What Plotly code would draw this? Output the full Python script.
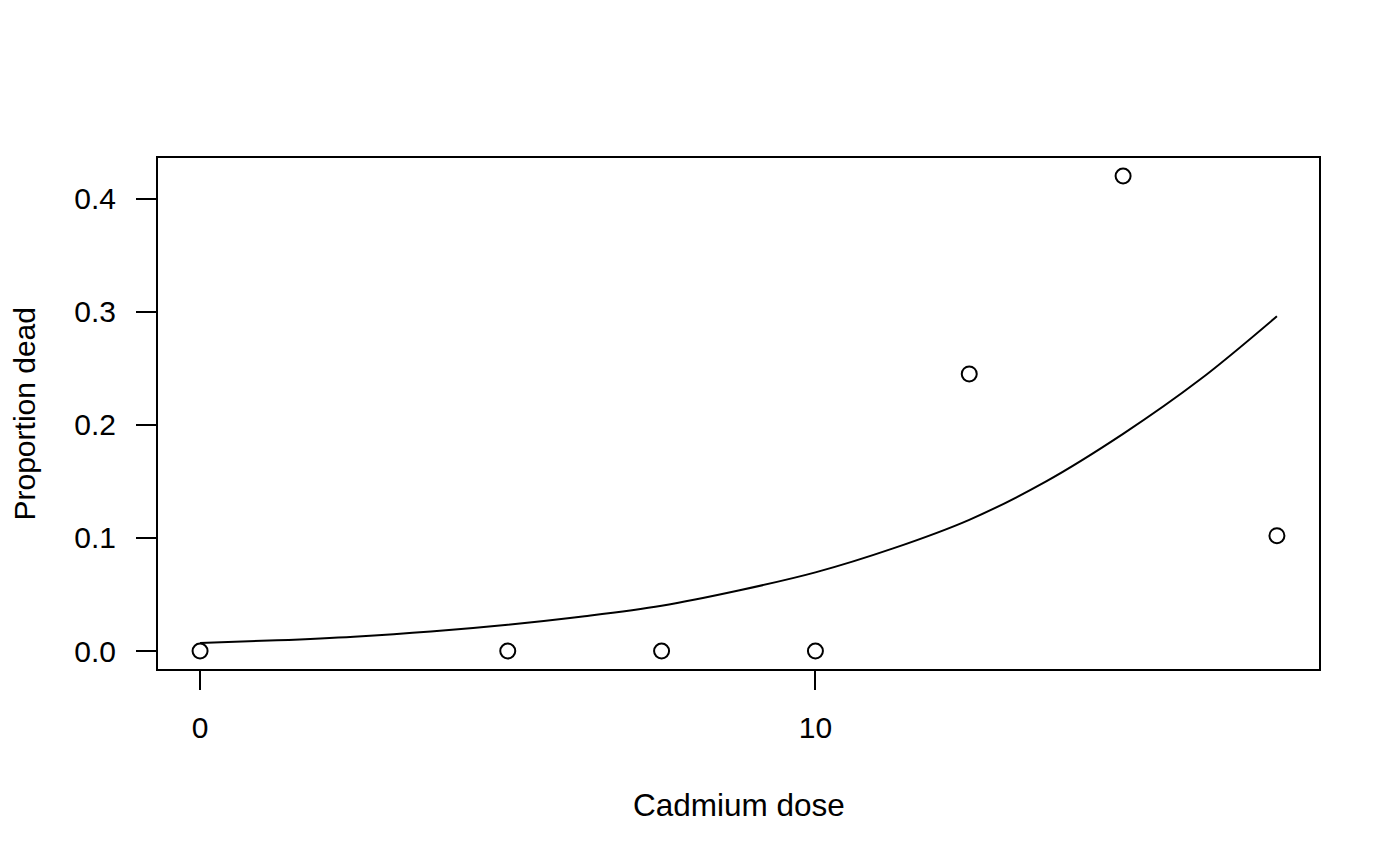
import plotly.graph_objects as go

# Observed data
dose = [0, 5, 7.5, 10, 12.5, 15, 17.5]
prop_dead = [0.0, 0.0, 0.0, 0.0, 0.245, 0.42, 0.102]

# Fitted curve
curve_dose = [0, 1.25, 2.5, 3.75, 5, 6.25, 7.5, 8.75, 10, 11.25, 12.5, 13.75, 15, 16.25, 17.5]
curve_prop = [0.0071, 0.0095, 0.0127, 0.0172, 0.0232, 0.0307, 0.0400, 0.0535,
              0.0695, 0.0905, 0.116, 0.150, 0.192, 0.240, 0.296]

x_ticks = [0, 10]
x_ticklabels = ["0", "10"]
y_ticks = [0.0, 0.1, 0.2, 0.3, 0.4]
y_ticklabels = ["0.0", "0.1", "0.2", "0.3", "0.4"]

FONT = "Liberation Sans, Arial, Helvetica, sans-serif"

fig = go.Figure()
fig.add_trace(go.Scatter(
    x=curve_dose, y=curve_prop, mode="lines",
    line=dict(color="black", width=2, shape="spline", smoothing=1.0),
    showlegend=False, hoverinfo="skip"))
fig.add_trace(go.Scatter(
    x=dose, y=prop_dead, mode="markers",
    marker=dict(symbol="circle-open", size=15, color="black", line=dict(width=2, color="black")),
    showlegend=False))

fig.update_layout(
    width=1400, height=866,
    margin=dict(l=149, r=88, t=149, b=204),
    paper_bgcolor="white", plot_bgcolor="white",
    font=dict(family=FONT, size=30, color="black"),
    xaxis=dict(range=[-0.7, 18.2], tickvals=x_ticks, ticktext=x_ticklabels,
               ticks="outside", ticklen=19, tickwidth=2, tickcolor="black",
               showgrid=False, zeroline=False, showline=False,
               ticklabelstandoff=12, tickfont=dict(size=30)),
    yaxis=dict(range=[-0.0168, 0.4368], tickvals=y_ticks, ticktext=y_ticklabels,
               ticks="outside", ticklen=20, tickwidth=2, tickcolor="black",
               showgrid=False, zeroline=False, showline=False,
               ticklabelstandoff=14, tickfont=dict(size=30)),
    shapes=[dict(type="rect", xref="paper", yref="paper", x0=0, x1=1, y0=0, y1=1,
                 line=dict(color="black", width=2), fillcolor="rgba(0,0,0,0)", layer="above")],
    annotations=[
        dict(text="Cadmium dose", xref="paper", yref="paper", x=0.5, y=0,
             xanchor="center", yanchor="middle", yshift=-135, showarrow=False,
             font=dict(size=31.5)),
        dict(text="Proportion dead", xref="paper", yref="paper", x=0, y=0.5,
             xanchor="center", yanchor="middle", xshift=-133, textangle=-90,
             showarrow=False, font=dict(size=30)),
    ],
)

fig.write_html("out.html")
